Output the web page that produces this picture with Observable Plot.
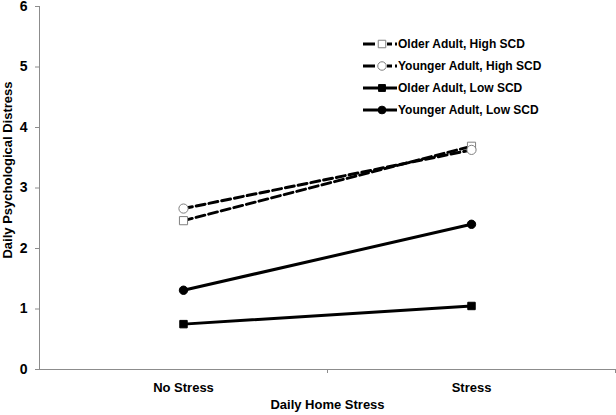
<!DOCTYPE html>
<html>
<head>
<meta charset="utf-8">
<script src="https://cdn.jsdelivr.net/npm/d3@7"></script>
<script src="https://cdn.jsdelivr.net/npm/@observablehq/plot@0.6"></script>
<style>
  html, body { margin: 0; padding: 0; background: #fff; }
  #chart { position: relative; width: 616px; height: 415px; }
  svg { font-family: "Liberation Sans", Arial, sans-serif; }
</style>
</head>
<body>
<div id="chart"></div>
<script>
// ---- data ----
const conditions = ["No Stress", "Stress"];
const seriesNames = ["Older Adult, High SCD", "Younger Adult, High SCD", "Older Adult, Low SCD", "Younger Adult, Low SCD"];
const olderHigh = [2.46, 3.69];
const youngerHigh = [2.66, 3.63];
const olderLow = [0.75, 1.05];
const youngerLow = [1.31, 2.40];
const yTicks = [0, 1, 2, 3, 4, 5, 6];
const xLabel = "Daily Home Stress";
const yLabel = "Daily Psychological Distress";

// ---- styles ----
const styles = {
  "Older Adult, High SCD":   {dash: "9,4", symbol: "square", fill: "white", stroke: "#808080", r: 4.6},
  "Younger Adult, High SCD": {dash: "9,4", symbol: "circle", fill: "white", stroke: "#808080", r: 4.6},
  "Older Adult, Low SCD":    {dash: null,  symbol: "square", fill: "black", stroke: "black", r: 4.2},
  "Younger Adult, Low SCD":  {dash: null,  symbol: "circle", fill: "black", stroke: "black", r: 4.2}
};

const seriesValues = [olderHigh, youngerHigh, olderLow, youngerLow];
const rows = [];
seriesNames.forEach((s, si) => {
  conditions.forEach((c, ci) => {
    rows.push({series: s, condition: c, pos: ci + 0.5, value: seriesValues[si][ci]});
  });
});

const font = "'Liberation Sans', Arial, sans-serif";
const marks = [
  Plot.ruleY([0], {stroke: "#8c8c8c", strokeWidth: 1}),
  Plot.ruleX([0], {stroke: "#8c8c8c", strokeWidth: 1}),
  Plot.axisY({ticks: yTicks, tickSize: 4, tickPadding: 8, stroke: "#8c8c8c", fill: "black",
              fontSize: 14, fontWeight: "bold", label: null, tickFormat: d3.format("d")}),
  Plot.axisX({ticks: [1, 2], tickSize: 4, stroke: "#8c8c8c", tickFormat: () => "", label: null}),
  Plot.axisX({ticks: [0.5, 1.5], tickSize: 0, tickPadding: 13, fill: "black",
              fontSize: 13, fontWeight: "bold", label: null,
              tickFormat: d => conditions[Math.floor(d)]}),
  Plot.text([xLabel], {frameAnchor: "bottom", dy: 39, fontSize: 13, fontWeight: "bold", fill: "black"}),
  Plot.text([yLabel], {frameAnchor: "left", textAnchor: "middle", dx: -32, dy: -18, rotate: -90,
                       fontSize: 13, fontWeight: "bold", fill: "black"})
];
seriesNames.forEach(s => {
  const st = styles[s];
  const d = rows.filter(r => r.series === s);
  marks.push(Plot.line(d, {x: "pos", y: "value", stroke: "black", strokeWidth: 3,
                            strokeDasharray: st.dash || undefined}));
});
seriesNames.forEach(s => {
  const st = styles[s];
  const d = rows.filter(r => r.series === s);
  marks.push(Plot.dot(d, {x: "pos", y: "value", symbol: st.symbol, r: st.r,
                           fill: st.fill, stroke: st.stroke, strokeWidth: 1}));
});

const chart = Plot.plot({
  width: 616,
  height: 415,
  marginLeft: 39,
  marginRight: 1,
  marginTop: 6,
  marginBottom: 46,
  style: {fontFamily: font, background: "white", color: "black"},
  x: {domain: [0, 2], axis: null},
  y: {domain: [0, 6], axis: null},
  marks
});
document.getElementById("chart").appendChild(chart);

// ---- legend ----
const svg = d3.select(chart);
const lg = svg.append("g").attr("transform", "translate(363,44)");
seriesNames.forEach((s, i) => {
  const st = styles[s];
  const g = lg.append("g").attr("transform", `translate(0,${i * 22})`);
  g.append("line").attr("x1", 0).attr("x2", 34).attr("y1", 0).attr("y2", 0)
    .attr("stroke", "black").attr("stroke-width", 3)
    .attr("stroke-dasharray", st.dash ? "12,4,5,3,5,3" : null);
  const sym = st.symbol === "square" ? d3.symbolSquare : d3.symbolCircle;
  g.append("path").attr("transform", "translate(19,0)")
    .attr("d", d3.symbol(sym, Math.PI * st.r * st.r * 0.85)())
    .attr("fill", st.fill).attr("stroke", st.stroke).attr("stroke-width", 1);
  g.append("text").attr("x", 35).attr("y", 0).attr("dy", "0.35em")
    .attr("text-anchor", "start")
    .attr("font-size", 12).attr("font-weight", "bold").attr("fill", "black")
    .attr("font-family", font).text(s);
});
</script>
</body>
</html>
